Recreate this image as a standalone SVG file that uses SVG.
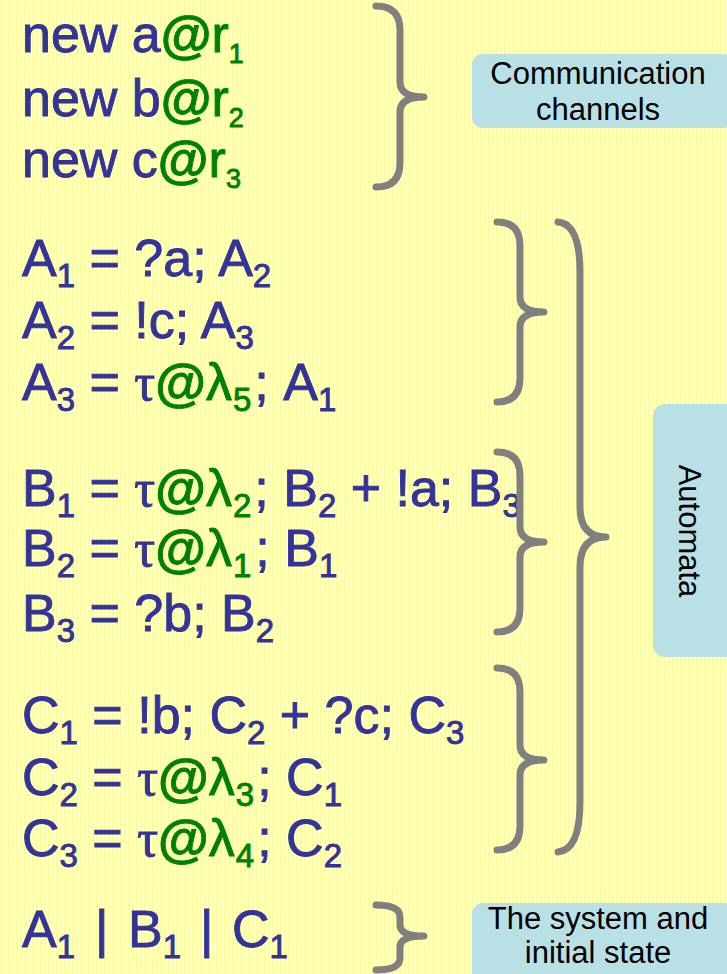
<svg xmlns="http://www.w3.org/2000/svg" width="727" height="974" viewBox="0 0 727 974">
<defs>
<pattern id="stripes" width="4" height="4" patternUnits="userSpaceOnUse">
<rect width="4" height="4" fill="#ffffff"/>
<rect width="2.6" height="4" fill="#ffff99"/>
</pattern>
<style>
.t{font-family:"Liberation Sans","DejaVu Sans",sans-serif;font-size:52px;fill:#333399;stroke:#333399;stroke-width:0.9}
.g{fill:#008000;stroke:#008000}
.at{font-weight:bold}
.tau{font-family:"Liberation Serif","DejaVu Serif",serif}
.s{font-size:33px}
.rs{font-size:27px}
.brace{fill:none;stroke:#808080;stroke-width:7;stroke-linecap:round;stroke-linejoin:round}
.box{fill:#b9e0e4}
.lbl{font-family:"Liberation Sans","DejaVu Sans",sans-serif;font-size:31px;fill:#000;text-anchor:middle}
</style>
</defs>
<rect width="727" height="974" fill="url(#stripes)"/>

<g id="channels">
<text class="t" x="22" y="52">new a<tspan class="g at">@</tspan><tspan class="g">r</tspan><tspan class="g rs" dy="11">1</tspan></text>
<text class="t" x="22" y="116">new b<tspan class="g at">@</tspan><tspan class="g">r</tspan><tspan class="g rs" dy="11">2</tspan></text>
<text class="t" x="22" y="177">new c<tspan class="g at">@</tspan><tspan class="g">r</tspan><tspan class="g rs" dy="11">3</tspan></text>
</g>

<g id="automatonA">
<text class="t" x="22" y="276">A<tspan class="s" dy="11">1</tspan><tspan dy="-11"> = ?a; A</tspan><tspan class="s" dy="11">2</tspan></text>
<text class="t" x="22" y="338">A<tspan class="s" dy="11">2</tspan><tspan dy="-11"> = !c; A</tspan><tspan class="s" dy="11">3</tspan></text>
<text class="t" x="22" y="400">A<tspan class="s" dy="11">3</tspan><tspan dy="-11"> = </tspan><tspan class="tau">τ</tspan><tspan class="g at">@</tspan><tspan class="g">λ</tspan><tspan class="g s" dy="11" dx="1">5</tspan><tspan dy="-11" dx="3">; A</tspan><tspan class="s" dy="11">1</tspan></text>
</g>

<g id="automatonB">
<text class="t" x="22" y="506">B<tspan class="s" dy="11">1</tspan><tspan dy="-11"> = </tspan><tspan class="tau">τ</tspan><tspan class="g at">@</tspan><tspan class="g">λ</tspan><tspan class="g s" dy="11" dx="1">2</tspan><tspan dy="-11" dx="3">; B</tspan><tspan class="s" dy="11">2</tspan><tspan dy="-11"> + !a; B</tspan><tspan class="s" dy="11">3</tspan></text>
<text class="t" x="22" y="566">B<tspan class="s" dy="11">2</tspan><tspan dy="-11"> = </tspan><tspan class="tau">τ</tspan><tspan class="g at">@</tspan><tspan class="g">λ</tspan><tspan class="g s" dy="11" dx="1">1</tspan><tspan dy="-11" dx="4">; B</tspan><tspan class="s" dy="11">1</tspan></text>
<text class="t" x="22" y="631">B<tspan class="s" dy="11">3</tspan><tspan dy="-11"> = ?b; B</tspan><tspan class="s" dy="11">2</tspan></text>
</g>

<g id="automatonC">
<text class="t" x="22" y="733">C<tspan class="s" dy="11">1</tspan><tspan dy="-11"> = !b; C</tspan><tspan class="s" dy="11">2</tspan><tspan dy="-11"> + ?c; C</tspan><tspan class="s" dy="11">3</tspan></text>
<text class="t" x="22" y="795">C<tspan class="s" dy="11">2</tspan><tspan dy="-11"> = </tspan><tspan class="tau">τ</tspan><tspan class="g at">@</tspan><tspan class="g">λ</tspan><tspan class="g s" dy="11" dx="1">3</tspan><tspan dy="-11" dx="3">; C</tspan><tspan class="s" dy="11">1</tspan></text>
<text class="t" x="22" y="856">C<tspan class="s" dy="11">3</tspan><tspan dy="-11"> = </tspan><tspan class="tau">τ</tspan><tspan class="g at">@</tspan><tspan class="g">λ</tspan><tspan class="g s" dy="11" dx="1">4</tspan><tspan dy="-11" dx="3">; C</tspan><tspan class="s" dy="11">2</tspan></text>
</g>

<g id="system">
<text class="t" x="22" y="947">A<tspan class="s" dy="11">1</tspan></text>
<text class="t" x="95" y="947">|</text>
<text class="t" x="128" y="947">B<tspan class="s" dy="11">1</tspan></text>
<text class="t" x="200" y="947">|</text>
<text class="t" x="232" y="947">C<tspan class="s" dy="11">1</tspan></text>
</g>

<g id="connectors">
<path class="brace" d="M376,6 Q400,6 400,30 L400,82 Q400,97 424,97 Q400,97 400,112 L400,163 Q400,187 376,187"/>
<path class="brace" d="M497,222 Q520,222 520,246 L520,297 Q520,312 544,312 Q520,312 520,327 L520,378 Q520,402 497,402"/>
<path class="brace" d="M497,452 Q520,452 520,476 L520,527 Q520,542 544,542 Q520,542 520,557 L520,608 Q520,632 497,632"/>
<path class="brace" d="M497,668 Q520,668 520,692 L520,745 Q520,760 544,760 Q520,760 520,775 L520,826 Q520,850 497,850"/>
<path class="brace" d="M558,222 Q580,224 580,272 L580,507 Q580,537 606,537 Q580,537 580,567 L580,802 Q580,850 558,852"/>
<path class="brace" d="M376,905 Q400,905 400,917 L400,925 Q400,936 424,936 Q400,936 400,947 L400,958 Q400,970 376,970"/>
</g>

<g id="label-channels">
<rect class="box" x="472" y="54" width="262" height="74" rx="11"/>
<text class="lbl" x="598" y="84">Communication</text>
<text class="lbl" x="598" y="120">channels</text>
</g>

<g id="label-automata">
<rect class="box" x="653" y="404" width="90" height="253" rx="12"/>
<text class="lbl" transform="translate(679,531) rotate(90)">Automata</text>
</g>

<g id="label-system">
<rect class="box" x="472" y="903" width="262" height="90" rx="11"/>
<text class="lbl" x="598" y="929">The system and</text>
<text class="lbl" x="598" y="963">initial state</text>
</g>
</svg>
